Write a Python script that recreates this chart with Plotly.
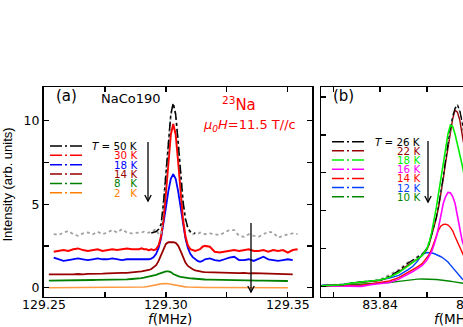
import plotly.graph_objects as go

W, H = 463, 327

# ---------------- Panel (a): 23Na spectra, NaCo190 ----------------
freq_a = [129.252, 129.254, 129.256, 129.258, 129.260, 129.262, 129.264, 129.266, 129.268, 129.270,
          129.272, 129.274, 129.276, 129.278, 129.280, 129.282, 129.284, 129.286, 129.288,
          129.289, 129.290, 129.291, 129.292, 129.293, 129.294, 129.295, 129.296, 129.297, 129.298,
          129.299, 129.300, 129.301, 129.302, 129.303, 129.304, 129.305, 129.306, 129.307, 129.308,
          129.309, 129.310, 129.311, 129.312, 129.313, 129.314, 129.315, 129.316,
          129.318, 129.320, 129.322, 129.324, 129.326, 129.328, 129.330, 129.332, 129.334, 129.336,
          129.338, 129.340, 129.342, 129.344, 129.346, 129.348, 129.350, 129.352, 129.354]

data_50K = [None, 3.20, 3.15, 3.30, 3.40, 3.20, 3.10, 3.25, 3.30, 3.20, 3.35, 3.20, 3.30, 3.45, 3.30, 3.50, 3.30, 3.25, 3.30,
            3.30, 3.30, 3.35, 3.30, 3.30, 3.35, 3.45, 3.50, 3.20, 3.20, 5.10, 6.80, 8.70, 10.30, 11.00, 10.40, 8.80, 6.90,
            5.20, 4.00, 3.50, 3.30, 3.20, 3.25, 3.20, 3.30, 3.25, 3.20,
            3.25, 3.20, 3.15, 3.30, 3.45, 3.45, 3.10, 3.05, 3.20, 3.10, 3.05, 3.20, 3.35, 3.30, 3.00, 3.10, 3.20, 3.25, 3.20]
fit_50K = [None] * 19 + [None, None, None, None, None, 3.27, 3.30, 3.36, 3.50, 3.80, 5.05, 6.80, 8.73, 10.36, 11.05, 10.36,
                         8.73, 6.80, 5.18, 4.13, 3.59, 3.36, 3.28, 3.25, None, None, None, None] + [None] * 19
data_30K = [None, 2.15, 2.20, 2.25, 2.20, 2.30, 2.35, 2.25, 2.20, 2.25, 2.30, 2.20, 2.25, 2.30, 2.25, 2.30, 2.35, 2.30, 2.30,
            2.30, 2.35, 2.30, 2.30, 2.25, 2.30, 2.25, 2.31, 2.53, 3.07, 4.09, 5.68, 7.57, 9.17, 9.80, 9.17, 7.57, 5.68,
            4.09, 3.07, 2.53, 2.31, 2.25, 2.20, 2.25, 2.30, 2.45, 2.50,
            2.45, 2.15, 2.10, 2.15, 2.20, 2.25, 2.20, 2.25, 2.30, 2.20, 2.20, 2.25, 2.15, 2.25, 2.20, 2.25, 2.10, 2.25, 2.30]
data_18K = [None, 1.80, 1.70, 1.60, 1.65, 1.70, 1.75, 1.70, 1.65, 1.70, 1.75, 1.70, 1.70, 1.75, 1.70, 1.65, 1.70, 1.70, 1.70,
            1.70, 1.70, 1.68, 1.70, 1.70, 1.74, 1.83, 2.02, 2.37, 2.95, 3.78, 4.79, 5.78, 6.52, 6.80, 6.52, 5.78, 4.79,
            3.78, 2.95, 2.37, 2.02, 1.83, 1.70, 1.60, 1.55, 1.60, 1.70,
            1.75, 1.65, 1.60, 1.70, 1.80, 1.85, 1.65, 1.65, 1.70, 1.60, 1.75, 1.85, 1.70, 1.65, 1.60, 1.65, 1.70, 1.65, None]
data_14K = [0.80, 0.78, 0.80, 0.80, 0.78, 0.80, 0.82, 0.80, 0.83, 0.82, 0.85, 0.84, 0.85, 0.87, 0.86, 0.88, 0.88, 0.90, 0.92,
            0.93, 0.97, 1.00, 1.02, 1.06, 1.12, 1.22, 1.35, 1.60, 1.95, 2.35, 2.62, 2.72, 2.74, 2.73, 2.68, 2.52, 2.20,
            1.80, 1.50, 1.30, 1.18, 1.10, 1.04, 1.00, 0.97, 0.95, 0.93,
            0.92, 0.90, 0.88, 0.88, 0.90, 0.88, 0.87, 0.88, 0.85, 0.87, 0.86, 0.84, 0.85, 0.86, 0.84, 0.83, 0.82, 0.80, None]
data_8K = [0.42, 0.42, 0.43, 0.43, 0.44, 0.44, 0.45, 0.45, 0.46, 0.46, 0.47, 0.47, 0.48, 0.48, 0.49, 0.50, 0.50, 0.52, 0.53,
           0.55, 0.57, 0.60, 0.63, 0.66, 0.68, 0.72, 0.77, 0.83, 0.88, 0.93, 0.97, 0.98, 0.93, 0.82, 0.74, 0.69, 0.65,
           0.62, 0.60, 0.58, 0.56, 0.55, 0.53, 0.52, 0.51, 0.50, 0.49,
           0.48, 0.47, 0.46, 0.46, 0.45, 0.45, 0.44, 0.44, 0.43, 0.43, 0.42, 0.42, 0.42, 0.41, 0.41, 0.41, 0.40, None, None]
data_2K = [0.00, 0.00, 0.00, 0.01, 0.00, 0.01, 0.01, 0.00, 0.01, 0.01, 0.01, 0.01, 0.01, 0.02, 0.01, 0.02, 0.02, 0.02, 0.02,
           0.02, 0.03, 0.04, 0.06, 0.08, 0.10, 0.13, 0.17, 0.20, 0.23, 0.25, 0.25, 0.24, 0.21, 0.17, 0.13, 0.10, 0.08,
           0.06, 0.05, 0.04, 0.03, 0.03, 0.02, 0.02, 0.02, 0.01, 0.01,
           0.01, 0.01, 0.01, 0.01, 0.00, 0.01, 0.00, 0.01, 0.00, 0.00, 0.01, 0.00, 0.00, 0.01, 0.00, 0.00, 0.00, None, None]

# ---------------- Panel (b) ----------------
freq_b = [83.8275, 83.830, 83.832, 83.834, 83.836, 83.838, 83.840, 83.842, 83.844, 83.846,
          83.847, 83.848, 83.849, 83.850, 83.8505, 83.851, 83.8515, 83.852, 83.8525, 83.853,
          83.8535, 83.854, 83.8545, 83.855, 83.8555, 83.856, 83.8565, 83.857, 83.8575, 83.858]

fit_26K = [0.05, 0.07, 0.10, 0.20, 0.25, 0.28, 0.35, 0.55, 0.85, 1.25, 1.40, 1.55, 1.72, 2.00, 2.30,
           2.75, 3.20, 3.65, 4.25, 4.95, 5.80, 6.70, 7.60, 8.35, 8.95, 9.40, 9.58, 9.30, 8.70, 7.90]
data_26K = [0.04, 0.08, 0.12, 0.18, 0.27, 0.30, 0.38, 0.62, 0.90, 1.30, 1.38, 1.60, 1.70, 2.05, 2.35,
            2.70, 3.25, 3.60, 4.30, 4.90, 5.85, 6.65, 7.65, 8.30, 9.00, 9.35, 9.62, 9.25, 8.75, 7.85]
data_22K = [0.05, 0.07, 0.10, 0.18, 0.24, 0.27, 0.33, 0.50, 0.78, 1.15, 1.30, 1.45, 1.65, 1.95, 2.25,
            2.70, 3.15, 3.60, 4.20, 4.90, 5.70, 6.55, 7.40, 8.20, 8.85, 9.30, 9.20, 8.80, 8.10, 7.30]
data_b18K = [0.05, 0.07, 0.10, 0.20, 0.25, 0.28, 0.35, 0.50, 0.75, 1.10, 1.27, 1.45, 1.65, 2.00, 2.35,
             2.85, 3.45, 4.15, 4.95, 5.75, 6.60, 7.40, 8.05, 8.50, 8.45, 8.05, 7.55, 7.00, 6.45, 5.80]
data_16K = [0.05, 0.03, 0.02, 0.00, 0.02, 0.10, 0.17, 0.22, 0.40, 0.65, 0.80, 0.95, 1.12, 1.40, 1.60,
            1.85, 2.20, 2.60, 3.15, 3.85, 4.40, 4.75, 4.97, 4.95, 4.75, 4.40, 3.75, 3.00, 2.45, 2.05]
data_b14K = [0.05, 0.05, 0.05, 0.05, 0.08, 0.15, 0.22, 0.30, 0.48, 0.75, 0.90, 1.05, 1.22, 1.50, 1.70,
             1.98, 2.30, 2.70, 3.00, 3.20, 3.28, 3.30, 3.25, 3.13, 2.95, 2.65, 2.35, 2.05, 1.78, 1.55]
data_12K = [0.08, 0.10, 0.12, 0.20, 0.25, 0.30, 0.35, 0.45, 0.60, 0.90, 1.08, 1.35, 1.70, 1.80, 1.80,
            1.78, 1.75, 1.70, 1.65, 1.58, 1.50, 1.42, 1.30, 1.15, 1.00, 0.88, 0.72, 0.55, 0.42, 0.32]
data_10K = [0.03, 0.03, 0.05, 0.10, 0.12, 0.15, 0.18, 0.22, 0.28, 0.35, 0.38, 0.40, 0.41, 0.41, 0.40,
            0.40, 0.39, 0.38, 0.37, 0.36, 0.35, 0.33, 0.31, 0.29, 0.27, 0.25, 0.23, 0.21, 0.19, 0.17]

legend_a_labels = ["<i>T</i> = 50 K", "30 K", "18 K", "14 K", "8&nbsp;&nbsp; K", "2&nbsp;&nbsp; K"]
legend_a_colors = ["#000000", "#FF0000", "#0000FF", "#990000", "#008000", "#FF8000"]
legend_b_labels = ["<i>T</i> = 26 K", "22 K", "18 K", "16 K", "14 K", "12 K", "10 K"]
legend_b_colors = ["#000000", "#990000", "#00EE00", "#FF00FF", "#FF0000", "#0040FF", "#008800"]

b_cut_tick = "83.86"
x_title = "<i>f</i>(MHz)"
y_title = "Intensity (arb. units)"


def px(x):
    return x / W


def py(y):
    return 1 - y / H


FONT = "DejaVu Sans"
fig = go.Figure()

# panel (a) traces
a_series = [
    (data_2K, "#FF9A40", 1.6, "solid"),
    (data_8K, "#008000", 1.8, "solid"),
    (data_14K, "#990000", 1.8, "solid"),
    (data_18K, "#0000FF", 1.8, "solid"),
    (data_30K, "#FF0000", 2.0, "solid"),
    (data_50K, "#A0A0A0", 1.8, "dot"),
    (fit_50K, "#000000", 1.5, "dashdot"),
]
for ys, col, wd, dash in a_series:
    fig.add_trace(go.Scatter(x=freq_a, y=ys, mode="lines", xaxis="x", yaxis="y",
                             line=dict(color=col, width=wd, dash=dash), connectgaps=False))

# panel (b) traces
b_series = [
    (data_10K, "#008800", 1.4, "solid"),
    (data_12K, "#0040FF", 1.4, "solid"),
    (data_b14K, "#FF0000", 1.4, "solid"),
    (data_16K, "#FF00FF", 1.6, "solid"),
    (data_22K, "#990000", 1.4, "solid"),
    (data_26K, "#A0A0A0", 1.6, "dot"),
    (fit_26K, "#000000", 1.3, "dashdot"),
    (data_b18K, "#00EE00", 1.6, "solid"),
]
for ys, col, wd, dash in b_series:
    fig.add_trace(go.Scatter(x=freq_b, y=ys, mode="lines", xaxis="x2", yaxis="y2",
                             line=dict(color=col, width=wd, dash=dash)))

shapes = []
annotations = []


def label(x, y, text, size, color="black", xanchor="center", family=FONT, **kw):
    return dict(xref="paper", yref="paper", x=px(x), y=py(y), text=text, showarrow=False,
                xanchor=xanchor, yanchor="middle", font=dict(family=family, size=size, color=color), **kw)


# legend (a)
y0a, dya = 146.0, 9.35
for i, (lab, col) in enumerate(zip(legend_a_labels, legend_a_colors)):
    yy = y0a + i * dya
    shapes.append(dict(type="line", xref="paper", yref="paper", x0=px(50), x1=px(82), y0=py(yy), y1=py(yy),
                       line=dict(color=col, width=1.5, dash="12px,3px,2px,3px")))
    annotations.append(label(139, yy, lab, 10.3, col, xanchor="right"))

# legend (b)
y0b, dyb = 141.7, 9.17
for i, (lab, col) in enumerate(zip(legend_b_labels, legend_b_colors)):
    yy = y0b + i * dyb
    shapes.append(dict(type="line", xref="paper", yref="paper", x0=px(332), x1=px(365), y0=py(yy), y1=py(yy),
                       line=dict(color=col, width=1.5, dash="12px,3px,2px,3px")))
    annotations.append(label(422, yy, lab, 10.3, col, xanchor="right"))

# arrows (line + open head)
for (xh, yh, length) in [(148, 201, 59), (251, 292, 69), (428, 202, 61)]:
    shapes.append(dict(type="line", xref="paper", yref="paper", x0=px(xh), x1=px(xh),
                       y0=py(yh - length), y1=py(yh), line=dict(color="black", width=1.3)))
    shapes.append(dict(type="path", xref="paper", yref="paper",
                       path=f"M {px(xh - 3.2)},{py(yh - 6)} L {px(xh)},{py(yh)} L {px(xh + 3.2)},{py(yh - 6)}",
                       line=dict(color="black", width=1.3)))

# labels
annotations += [
    label(66, 96, "(a)", 15),
    label(343.5, 96, "(b)", 15),
    label(130.5, 99, "NaCo190", 13),
    label(239, 104, "<sup>23</sup>Na", 15, "#FF0000"),
    label(249.5, 125, "<i>μ<sub>0</sub>H</i>=11.5 T//c", 13, "#FF0000"),
    label(7, 184.5, y_title, 13, family="Liberation Sans", textangle=-90),
    label(170, 319, x_title, 13.5),
    # texts of panel (b) that run past the right edge of the picture (anchored on the axis, clipped by the page)
    dict(xref="x2", yref="y2", x=83.8576, y=-0.5, xshift=-31, yshift=-22.5, text=x_title, showarrow=False,
         xanchor="left", yanchor="middle", font=dict(family=FONT, size=13.5, color="black")),
    dict(xref="x2", yref="y2", x=83.8576, y=-0.5, xshift=11, yshift=-8.5, text=b_cut_tick, showarrow=False,
         xanchor="center", yanchor="middle", font=dict(family=FONT, size=12.5, color="black")),
]

ydom = [1 - 296.7 / H, 1 - 87 / H]
common_axis = dict(showline=True, linecolor="black", linewidth=1.5, ticks="inside", ticklen=5,
                   tickwidth=1.2, tickcolor="black", showgrid=False, zeroline=False, automargin=False,
                   tickfont=dict(family=FONT, size=12.5, color="black"))

fig.update_layout(
    width=W, height=H, margin=dict(l=0, r=0, t=0, b=0, autoexpand=False),
    paper_bgcolor="white", plot_bgcolor="white", showlegend=False,
    xaxis=dict(domain=[43.5 / W, 312 / W], range=[129.2498, 129.3599], anchor="y",
               tick0=129.25, dtick=0.05, tickformat=".2f", mirror="allticks", ticklabelstandoff=-4,
               minor=dict(tick0=129.25, dtick=0.025, ticks="inside", ticklen=5, tickcolor="black"),
               **common_axis),
    yaxis=dict(domain=ydom, range=[-0.54, 12.01], anchor="x", tick0=0, dtick=5, mirror="allticks",
               minor=dict(tick0=0, dtick=2.5, ticks="inside", ticklen=5, tickcolor="black"),
               **common_axis),
    xaxis2=dict(domain=[321 / W, 1.0], range=[83.8274, 83.8577], anchor="y2",
                tick0=83.84, dtick=0.02, tickformat=".2f", mirror="allticks", ticklabelstandoff=-4,
                minor=dict(tick0=83.84, dtick=0.01, ticks="inside", ticklen=5, tickcolor="black"),
                **common_axis),
    yaxis2=dict(domain=ydom, range=[-0.526, 10.526], anchor="x2", tick0=0, dtick=2, mirror=False,
                showticklabels=False, **common_axis),
    shapes=shapes,
    annotations=annotations,
)

fig.write_html("out.html", config={"displayModeBar": False, "staticPlot": True},
               post_script="document.body.style.margin='0px';document.body.style.overflow='hidden';")
